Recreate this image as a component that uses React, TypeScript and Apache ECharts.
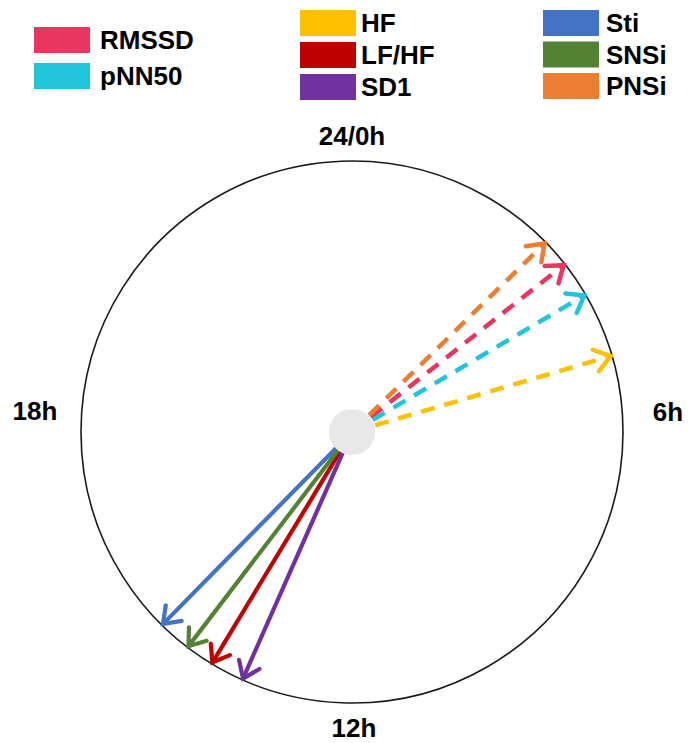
import React, { useEffect, useRef } from "react";
import * as echarts from "echarts";

const seriesNames = ["RMSSD", "pNN50", "HF", "LF/HF", "SD1", "Sti", "SNSi", "PNSi"];
const acrophaseHours = [3.45, 3.97, 4.91, 14.08, 13.59, 14.97, 14.49, 3.04];
const arrowLengths = [1, 1, 1, 1, 1, 1, 1, 1];
const isDashed = [true, true, true, false, false, false, false, true];
const seriesColors = ["#EA3561", "#22C4DC", "#FFC000", "#C00000", "#7030A0", "#4472C4", "#548235", "#ED7D31"];
const legendGroups = [["RMSSD", "pNN50"], ["HF", "LF/HF", "SD1"], ["Sti", "SNSi", "PNSi"]];
const hourLabels = ["24/0h", "6h", "12h", "18h"];

const FONT = '"Liberation Sans", Arial, sans-serif';

export default function App() {
  const ref = useRef<HTMLDivElement>(null);
  useEffect(() => {
    if (!ref.current) return;
    const chart = echarts.init(ref.current, undefined, { renderer: "svg" });

    const arrowSeries = seriesNames.map((name, i) => ({
      type: "custom",
      name,
      coordinateSystem: "polar",
      itemStyle: { color: seriesColors[i] },
      data: [[arrowLengths[i], acrophaseHours[i]]],
      z: 2,
      renderItem: (params: any, api: any) => {
        const r = api.value(0);
        const h = api.value(1);
        const tip = api.coord([r, h]);
        const o = api.coord([0, h]);
        const dx = tip[0] - o[0];
        const dy = tip[1] - o[1];
        const len = Math.hypot(dx, dy) || 1;
        const ux = dx / len;
        const uy = dy / len;
        const L = 19;
        const a = (36 * Math.PI) / 180;
        const ca = Math.cos(a);
        const sa = Math.sin(a);
        const t = [tip[0] - ux * 1.5, tip[1] - uy * 1.5];
        const w1 = [t[0] - L * (ux * ca - uy * sa), t[1] - L * (uy * ca + ux * sa)];
        const w2 = [t[0] - L * (ux * ca + uy * sa), t[1] - L * (uy * ca - ux * sa)];
        const color = seriesColors[i];
        const lw = isDashed[i] ? 4.5 : 4.2;
        return {
          type: "group",
          children: [
            {
              type: "line",
              shape: { x1: o[0], y1: o[1], x2: t[0] - ux * 2, y2: t[1] - uy * 2 },
              style: {
                stroke: color,
                lineWidth: lw,
                fill: null,
                lineDash: isDashed[i] ? [14, 10] : null,
              },
            },
            {
              type: "polyline",
              shape: { points: [w1, t, w2] },
              style: { stroke: color, lineWidth: lw, fill: null, lineJoin: "miter", lineCap: "round" },
            },
          ],
        };
      },
    }));

    const centerSeries = {
      type: "custom",
      name: "center",
      coordinateSystem: "polar",
      silent: true,
      z: 10,
      data: [[0, 0]],
      renderItem: (params: any, api: any) => {
        const c = api.coord([0, 0]);
        return {
          type: "circle",
          shape: { cx: c[0], cy: c[1], r: 23 },
          style: { fill: "#E8E8E8", stroke: null },
        };
      },
    };

    const legendPos = [
      { left: 34, top: 27, itemGap: 10, pad: 5 },
      { left: 300, top: 10, itemGap: 6, pad: 0 },
      { left: 543, top: 10, itemGap: 5.5, pad: 2 },
    ];

    chart.setOption({
      animation: false,
      backgroundColor: "#ffffff",
      polar: { center: [352, 432], radius: 271 },
      angleAxis: {
        type: "value",
        min: 0,
        max: 24,
        startAngle: 90,
        clockwise: true,
        axisLine: { show: true, lineStyle: { color: "#1a1a1a", width: 1.6 } },
        axisTick: { show: false },
        axisLabel: { show: false },
        splitLine: { show: false },
      },
      radiusAxis: {
        type: "value",
        min: 0,
        max: 1,
        axisLine: { show: false },
        axisTick: { show: false },
        axisLabel: { show: false },
        splitLine: { show: false },
      },
      legend: legendGroups.map((g, k) => ({
        data: g,
        orient: "vertical",
        left: legendPos[k].left,
        top: legendPos[k].top,
        itemGap: legendPos[k].itemGap,
        itemWidth: 56,
        itemHeight: 26,
        icon: "rect",
        padding: 0,
        selectedMode: false,
        textStyle: {
          fontSize: 26,
          fontWeight: "bold",
          fontFamily: FONT,
          color: "#000",
          lineHeight: 26,
          padding: [0, 0, 0, legendPos[k].pad],
        },
      })),
      graphic: [
        { pos: [352, 136] },
        { pos: [668, 412] },
        { pos: [354, 728] },
        { pos: [35, 411] },
      ].map((p, k) => ({
        type: "text",
        x: p.pos[0],
        y: p.pos[1],
        silent: true,
        style: {
          text: hourLabels[k],
          align: "center",
          verticalAlign: "middle",
          font: `bold 26px ${FONT}`,
          fill: "#000",
        },
      })),
      series: [...arrowSeries, centerSeries],
    });
    return () => chart.dispose();
  }, []);
  return (
    <div
      ref={ref}
      style={{ position: "fixed", left: 0, top: 0, width: 688, height: 743, background: "#fff" }}
    />
  );
}
